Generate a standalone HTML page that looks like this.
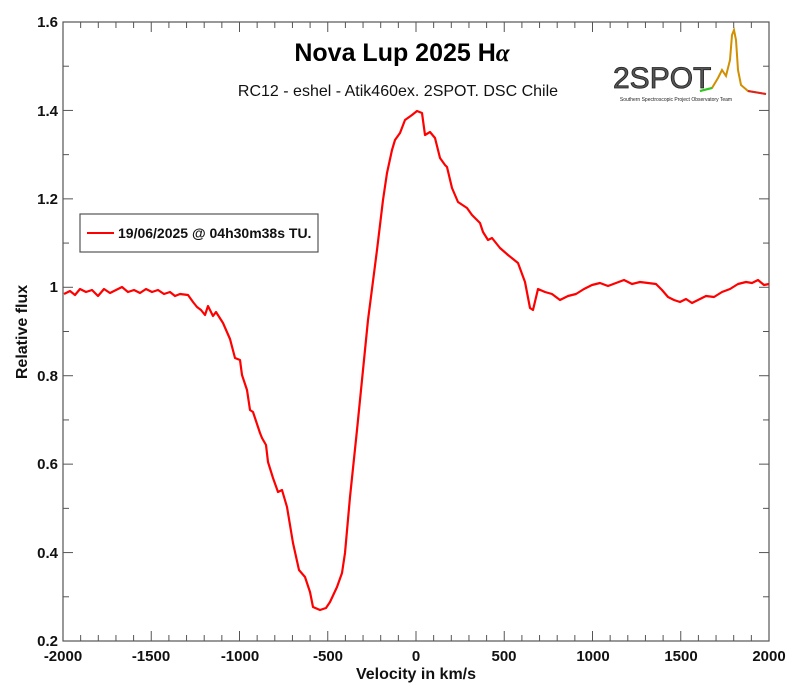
<!DOCTYPE html>
<html><head><meta charset="utf-8"><style>body{margin:0;background:#fff}svg{display:block}text{font-family:"Liberation Sans",Arial,sans-serif}</style></head><body>
<svg width="800" height="697" viewBox="0 0 800 697" xmlns="http://www.w3.org/2000/svg">
<rect width="800" height="697" fill="#fff"/>
<g stroke="#555" stroke-width="1.2" fill="none">
<rect x="63" y="22" width="706" height="619"/>
</g>
<g id="ticks" stroke="#555" stroke-width="1"></g>
<g font-size="15" font-weight="bold" fill="#111" text-anchor="middle">
<text x="63" y="661">-2000</text><text x="151" y="661">-1500</text><text x="240" y="661">-1000</text><text x="328" y="661">-500</text><text x="416" y="661">0</text><text x="504" y="661">500</text><text x="593" y="661">1000</text><text x="681" y="661">1500</text><text x="769" y="661">2000</text>
</g>
<g font-size="15" font-weight="bold" fill="#111" text-anchor="end">
<text x="58" y="646">0.2</text><text x="58" y="558">0.4</text><text x="58" y="469">0.6</text><text x="58" y="381">0.8</text><text x="58" y="292">1</text><text x="58" y="204">1.2</text><text x="58" y="116">1.4</text><text x="58" y="27">1.6</text>
</g>
<text x="416" y="679" font-size="16" font-weight="bold" text-anchor="middle" fill="#111">Velocity in km/s</text>
<text transform="translate(27,332) rotate(-90)" font-size="16" font-weight="bold" text-anchor="middle" fill="#111">Relative flux</text>
<text x="402" y="61" font-size="25" font-weight="bold" text-anchor="middle" fill="#000">Nova Lup 2025 H<tspan font-family="Liberation Serif" font-style="italic">α</tspan></text>
<text x="398" y="96" font-size="16" text-anchor="middle" fill="#111">RC12 - eshel - Atik460ex. 2SPOT. DSC Chile</text>
<text x="613" y="88" font-size="30" fill="#555" stroke="#222" stroke-width="0.8">2SPOT</text>
<text x="676" y="101" font-size="5" text-anchor="middle" fill="#222">Southern Spectroscopic Project Observatory Team</text>
<polyline fill="none" stroke="#d09000" stroke-width="2" points="700,91 712,88 718,78 722,70 726,76 730,60 732,35 734,30 736,40 738,70 741,85 748,91 766,94"/>
<line x1="700" y1="91" x2="712" y2="88" stroke="#2c2" stroke-width="2"/>
<line x1="748" y1="91" x2="766" y2="94" stroke="#d22" stroke-width="2"/>
<rect x="80" y="214" width="238" height="38" fill="#fff" stroke="#555" stroke-width="1.2"/>
<line x1="87" y1="233" x2="114" y2="233" stroke="#f00" stroke-width="2"/>
<text x="118" y="238" font-size="14" font-weight="bold" fill="#111">19/06/2025 @ 04h30m38s TU.</text>
<polyline fill="none" stroke="#f00" stroke-width="2.2" stroke-linejoin="round" points="64,294 70,291 75,295 80,289 86,292 92,290 98,296 104,289 110,293 116,290 122,287 128,292 134,290 140,293 146,289 152,292 158,290 164,294 170,292 175,296 180,294 188,295 193,302 197,307 201,310 205,315 208,306 213,316 216,312 223,323 230,339 235,358 240,360 242,375 247,390 250,410 253,412 260,433 262,438 266,445 268,462 273,478 278,492 282,490 287,507 293,543 299,570 305,577 310,592 313,607 320,610 326,608 330,602 337,587 342,573 345,553 350,497 357,430 363,370 368,320 377,250 383,200 387,173 392,150 395,140 400,133 405,120 412,115 417,111 422,113 425,135 430,132 435,138 440,158 445,165 447,167 452,188 458,202 467,208 472,215 480,223 483,232 488,240 492,238 500,248 508,255 518,263 525,282 530,308 533,310 538,289 545,292 552,294 560,300 568,296 576,294 584,289 592,285 600,283 608,286 616,283 624,280 632,284 640,282 648,283 656,284 662,290 668,297 674,300 680,302 686,299 692,303 698,300 706,296 714,297 722,292 730,289 738,284 746,282 752,283 758,280 764,285 769,284"/>
</svg>
<script>
var g=document.getElementById('ticks'),s='';
for(var i=0;i<=40;i++){var x=63+i*706/40,len=(i%5==0)?10:6;s+='<line x1="'+x+'" y1="641" x2="'+x+'" y2="'+(641-len)+'"/><line x1="'+x+'" y1="22" x2="'+x+'" y2="'+(22+len)+'"/>';}
for(var j=0;j<=14;j++){var y=641-j*619/14,len=(j%2==0)?10:6;s+='<line x1="63" y1="'+y+'" x2="'+(63+len)+'" y2="'+y+'"/><line x1="769" y1="'+y+'" x2="'+(769-len)+'" y2="'+y+'"/>';}
g.innerHTML=s;
</script>
</body></html>
